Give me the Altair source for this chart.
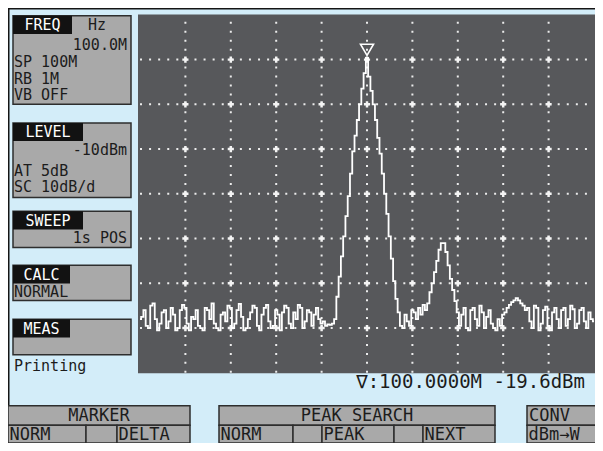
import altair as alt
import pandas as pd

START_MHZ = 50.0
STEP_MHZ = 0.5

noise_low_band = [
    -78, -77.5, -76, -79.5, -80, -75, -74.5, -78, -80.5, -79,
    -76.5, -76, -80, -78.5, -75.5, -77, -80.5, -80, -76, -74.8,
    -75.5, -79, -80.5, -77.5, -78, -76, -79.5, -80, -80.5, -75.5,
    -76, -78, -74.5, -79, -80, -80.5, -77, -76.5, -78.5, -75,
    -75.5, -80, -79, -76, -74.6, -77.5, -80.5, -80, -78, -76.5,
    -75, -75.5, -79.5, -80.5, -77, -75.5, -74.8, -78.5, -80, -79.5,
    -76, -77, -80.5, -76.5, -75, -75.5, -79, -80, -76.5, -78,
    -74.8, -75.5, -80, -78.5, -76, -76.5, -79.5, -77, -75.5, -78,
    -79, -78.5, -79.5, -79.2, -79.3, -79,
]
main_peak = [
    -78, -73, -68.5, -64, -59.5, -55, -50.5, -45.5, -40.5, -37,
    -33.5, -30, -26.5, -23, -19.6, -23.8, -27, -30, -33.5, -37.5,
    -41, -45.5, -50, -54.5, -59.5, -64.5, -69.5, -73.5,
]
noise_mid_band = [-76.5, -79.5, -80, -77, -78.5, -79.5, -76, -76.5, -78, -75.5, -77, -74.8]
second_peak = [-76, -74.5, -72, -70, -67.5, -65, -62.5, -61, -61, -63, -66, -69, -71.5, -74, -76.5]
noise_high_band = [
    -79.5, -77, -75.5, -80, -80.5, -76, -75.5, -78, -79.5, -75,
    -76.5, -80, -77.5, -76, -79, -80, -80.5, -78, -79.5, -77,
    -76.5, -75.5, -74.8, -74.2, -73.8, -73.3, -73.8, -74.5, -75, -76,
    -75.5, -78.5, -80, -75, -75.5, -80.5, -79, -76, -75.2, -79.5,
    -80.5, -76.5, -75.5, -78, -80, -76, -75.5, -79.5, -78, -75,
    -75.8, -80, -79, -76, -75.5, -78.5, -80, -76.5, -78, -78.5,
]

levels = noise_low_band + main_peak + noise_mid_band + second_peak + noise_high_band
freqs = [START_MHZ + i * STEP_MHZ for i in range(len(levels))]

center_mhz = 100.0
span_mhz = 100.0
ref_level_dbm = -10.0
db_per_div = 10.0
n_div_x = 10
n_div_y = 8
marker_freq = 100.0
marker_level = -19.6

freq_min = center_mhz - span_mhz / 2
freq_max = center_mhz + span_mhz / 2
db_top = ref_level_dbm
db_bottom = ref_level_dbm - db_per_div * n_div_y
grid_freqs = [freq_min + span_mhz / n_div_x * i for i in range(1, n_div_x)]
grid_levels = [db_top - db_per_div * i for i in range(1, n_div_y)]

panel_headers = ["FREQ", "LEVEL", "SWEEP", "CALC", "MEAS"]
freq_lines = ["100.0M", "SP 100M", "RB 1M", "VB OFF"]
level_lines = ["-10dBm", "AT 5dB", "SC 10dB/d"]
sweep_lines = ["1s POS"]
calc_lines = ["NORMAL"]
status_text = "Printing"
unit_text = "Hz"
marker_text = f"\u2207:{marker_freq:.4f}M -{abs(marker_level):.1f}dBm"

softkey_titles = ["MARKER", "PEAK SEARCH", "CONV"]
softkey_labels = [["NORM", "", "DELTA"], ["NORM", "", "PEAK", "", "NEXT"], ["dBm\u2192W"]]

# ---------------- layout (screen pixels) ----------------
W, H = 587, 435
SY = H / 443.0
def X(r): return r - 13
def Y(r): return (r - 6) * SY

FONT = "DejaVu Sans Mono"
FS_PANEL = 15
FS_KEYS = 17
FS_READ = 19
BLUE = "#d3edf9"
GREY = "#a9a9a9"
EDGE = "#2e2e2e"
DARK = "#57585b"
INK = "#1c1c1c"

bg_rows = [
    dict(x=X(13), x2=X(606), y=Y(6), y2=Y(452), fill=BLUE, stroke="#151515", sw=3),
    dict(x=X(143), x2=X(600), y=Y(12.5), y2=Y(378), fill=DARK, stroke=DARK, sw=0),
]

# panel boxes: top, bottom, header right edge
panel_geom = [(14, 104, 77), (123, 199, 88), (213, 250, 88), (268, 304, 75), (323, 359, 75)]
box_rows, head_rows = [], []
text_left, text_center, text_right = [], [], []
keys_left, keys_center = [], []
for label, (t, b, hr) in zip(panel_headers, panel_geom):
    box_rows.append(dict(x=X(18), x2=X(136), y=Y(t), y2=Y(b), fill=GREY, stroke=EDGE, sw=1.5))
    head_rows.append(dict(x=X(18), x2=X(hr), y=Y(t), y2=Y(t + 18.5), fill="#121212", stroke="#121212", sw=0))
    text_center.append(dict(text=label, x=X((18 + hr) / 2), y=Y(t + 9.5), color="white"))

text_left.append(dict(text=unit_text, x=X(93), y=Y(23.5), color=INK))
text_right.append(dict(text=freq_lines[0], x=X(132), y=Y(44), color=INK))
for s, yy in zip(freq_lines[1:], [61.5, 78, 94.5]):
    text_left.append(dict(text=s, x=X(19), y=Y(yy), color=INK))
text_right.append(dict(text=level_lines[0], x=X(132), y=Y(151), color=INK))
for s, yy in zip(level_lines[1:], [171.5, 188.5]):
    text_left.append(dict(text=s, x=X(19), y=Y(yy), color=INK))
text_right.append(dict(text=sweep_lines[0], x=X(132), y=Y(240), color=INK))
text_left.append(dict(text=calc_lines[0], x=X(19), y=Y(295), color=INK))
text_left.append(dict(text=status_text, x=X(19), y=Y(370.5), color=INK))
readout = [dict(text=marker_text, x=X(590), y=Y(387), color=INK)]

# softkeys
R1T, R1B, R2B = 411, 431, 449
group_x = [(13, 195), (224, 500), (532, 606)]
cell_x = [[(13, 91), (91, 122), (122, 195)],
          [(224, 298), (298, 327), (327, 399), (399, 428), (428, 500)],
          [(532, 606)]]
for title, (g0, g1), cells, labels in zip(softkey_titles, group_x, cell_x, softkey_labels):
    box_rows.append(dict(x=X(g0), x2=X(g1), y=Y(R1T), y2=Y(R1B), fill=GREY, stroke=EDGE, sw=1.5))
    if title == "CONV":
        keys_left.append(dict(text=title, x=X(g0 + 2), y=Y(421), color=INK))
    else:
        keys_center.append(dict(text=title, x=X((g0 + g1) / 2), y=Y(421), color=INK))
    for (c0, c1), lab in zip(cells, labels):
        box_rows.append(dict(x=X(c0), x2=X(c1), y=Y(R1B), y2=Y(R2B), fill=GREY, stroke=EDGE, sw=1.5))
        if lab:
            keys_left.append(dict(text=lab, x=X(c0 + 1.5), y=Y(440.5), color=INK))


def rect_layer(rows):
    return alt.Chart(pd.DataFrame(rows)).mark_rect().encode(
        x=alt.X("x:Q", scale=None, axis=None), x2="x2:Q",
        y=alt.Y("y:Q", scale=None, axis=None), y2="y2:Q",
        fill=alt.Fill("fill:N", scale=None),
        stroke=alt.Stroke("stroke:N", scale=None),
        strokeWidth=alt.StrokeWidth("sw:Q", scale=None),
    )


def text_layer(rows, align, size):
    return alt.Chart(pd.DataFrame(rows)).mark_text(
        align=align, baseline="middle", font=FONT, fontSize=size
    ).encode(
        x=alt.X("x:Q", scale=None, axis=None),
        y=alt.Y("y:Q", scale=None, axis=None),
        text="text:N",
        color=alt.Color("color:N", scale=None),
    )


xs = alt.Scale(domain=[freq_min, freq_max], range=[X(145), X(599)], nice=False, zero=False)
ys = alt.Scale(domain=[db_bottom, db_top], range=[Y(377.5), Y(13)], nice=False, zero=False)

dot_x = (X(599) - X(145)) / (n_div_x * 5)
dot_y = (Y(377.5) - Y(13)) / (n_div_y * 5)

vgrid = alt.Chart(pd.DataFrame({"freq": grid_freqs, "lo": db_bottom, "hi": db_top})).mark_rule(
    color="#ececec", strokeWidth=2, strokeDash=[2, dot_y - 2]
).encode(x=alt.X("freq:Q", scale=xs, axis=None), y=alt.Y("lo:Q", scale=ys, axis=None), y2="hi:Q")

hgrid = alt.Chart(pd.DataFrame({"level": grid_levels, "lo": freq_min, "hi": freq_max})).mark_rule(
    color="#ececec", strokeWidth=2, strokeDash=[2, dot_x - 2]
).encode(y=alt.Y("level:Q", scale=ys, axis=None), x=alt.X("lo:Q", scale=xs, axis=None), x2="hi:Q")

cross_df = pd.DataFrame([(f, l) for f in grid_freqs for l in grid_levels], columns=["freq", "level"])
crosses = alt.Chart(cross_df).mark_point(shape="cross", filled=True, size=38, color="#f4f4f4", opacity=1).encode(
    x=alt.X("freq:Q", scale=xs, axis=None), y=alt.Y("level:Q", scale=ys, axis=None))

trace = alt.Chart(pd.DataFrame({"freq": freqs, "level": levels})).mark_line(
    interpolate="step", color="white", strokeWidth=1.8
).encode(x=alt.X("freq:Q", scale=xs, axis=None), y=alt.Y("level:Q", scale=ys, axis=None))

marker = alt.Chart(pd.DataFrame({"freq": [marker_freq], "level": [marker_level]})).mark_point(
    shape="triangle-down", filled=False, size=170, strokeWidth=1.6, color="white", opacity=1, yOffset=-8
).encode(x=alt.X("freq:Q", scale=xs, axis=None), y=alt.Y("level:Q", scale=ys, axis=None))

chart = alt.layer(
    rect_layer(bg_rows),
    rect_layer(box_rows),
    rect_layer(head_rows),
    vgrid, hgrid, crosses, trace, marker,
    text_layer(text_left, "left", FS_PANEL),
    text_layer(text_center, "center", FS_PANEL),
    text_layer(text_right, "right", FS_PANEL),
    text_layer(readout, "right", FS_READ),
    text_layer(keys_left, "left", FS_KEYS),
    text_layer(keys_center, "center", FS_KEYS),
).resolve_scale(x="independent", y="independent").properties(
    width=W, height=H, padding=0, autosize=alt.AutoSizeParams(type="none")
).configure_view(stroke=None).configure(background="white")

chart.save("out.html", embed_options={"renderer": "svg", "actions": False})
